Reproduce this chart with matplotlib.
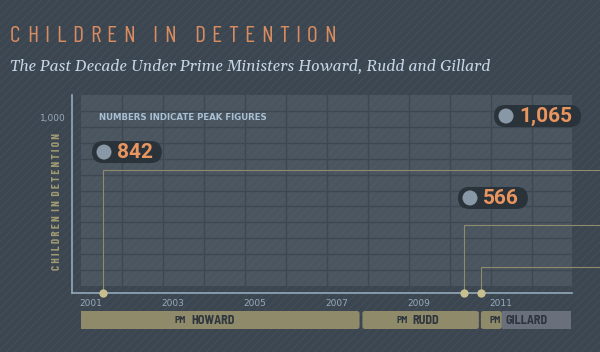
import matplotlib
matplotlib.use('Agg')
import matplotlib.pyplot as plt
from matplotlib.patches import Rectangle, FancyBboxPatch, Circle
import matplotlib.transforms as mtransforms

# ---------------- data ----------------
peak_labels = ['842', '1,065', '566']
peak_values = [842, 1065, 566]
event_years = [2001.3, 2010.1, 2010.5]
connector_levels = [703, 389, 149]
pm_names = ['HOWARD', 'RUDD', 'GILLARD']
pm_starts = [1996.0, 2007.62, 2010.51]
pm_ends = [2007.55, 2010.46, 2011.02]
ongoing_end = 2012.7
year_ticks = [2001, 2003, 2005, 2007, 2009, 2011]
y_ticks = [1000]
y_tick_labels = ['1,000']
title = 'CHILDREN IN DETENTION'
subtitle = 'The Past Decade Under Prime Ministers Howard, Rudd and Gillard'
note = 'NUMBERS INDICATE PEAK FIGURES'
ylabel = 'CHILDREN IN DETENTION'

# ---------------- layout ----------------
W, H = 600, 352
BG = '#3b4651'
COND = ['Barlow Condensed', 'DejaVu Sans']
SEMI = ['Barlow Semi Condensed', 'DejaVu Sans']
plt.rcParams['hatch.linewidth'] = 0.8

def year_at(px):
    return 2001 + (px - 91) / 41.0

def val_at(py):
    return (293 - py) / 0.175

def spaced(s):
    return '  '.join(' '.join(w) for w in s.split(' '))

fig = plt.figure(figsize=(W / 100, H / 100), dpi=100)
renderer = fig.canvas.get_renderer()
fig.patch.set_facecolor(BG)
fig.patches.append(Rectangle((0, 0), 1, 1, transform=fig.transFigure,
                             facecolor=BG, edgecolor='#434e59', hatch='////',
                             lw=0, zorder=-5))

def tracked_text(x_px, y_px, s, tracking, **kw):
    """Place characters one by one (pixel coords from top-left) with extra tracking."""
    tmp = fig.text(0, 0, 'nn', **kw)
    w_nn = tmp.get_window_extent(renderer).width
    tmp.set_text('n n')
    space_w = tmp.get_window_extent(renderer).width - w_nn
    tmp.remove()
    x = x_px
    for ch in s:
        if ch == ' ':
            x += space_w + tracking
            continue
        t = fig.text(x / W, 1 - y_px / H, ch, va='center', ha='left', **kw)
        x += t.get_window_extent(renderer).width + tracking

ax = fig.add_axes([72 / W, (H - 293) / H, 500 / W, 198 / H])
ax.set_zorder(2)
ax.patch.set_visible(False)
ax.set_xlim(year_at(72), year_at(572))
ax.set_ylim(0, val_at(95))
ax.set_autoscale_on(False)

# plot background + grid
gx0, gy0 = year_at(81), val_at(286)
ax.add_patch(Rectangle((gx0, gy0), year_at(572) - gx0, val_at(95) - gy0,
                       facecolor='#4a5560', edgecolor='#4f5a65', hatch='////',
                       lw=0, zorder=0))
k = 1
while gx0 + k < year_at(572) - 0.01:
    ax.plot([gx0 + k, gx0 + k], [gy0, val_at(95)], color='#3e4853', lw=1.0, zorder=1)
    k += 1
row = (val_at(95) - gy0) / 12.0
for k in range(1, 12):
    ax.plot([gx0, year_at(572)], [gy0 + k * row] * 2, color='#3e4853', lw=1.0, zorder=1)

for s in ['top', 'right']:
    ax.spines[s].set_visible(False)
for s in ['left', 'bottom']:
    ax.spines[s].set_color('#93a9ba')
    ax.spines[s].set_linewidth(1.2)
ax.set_xticks(year_ticks)
ax.set_xticklabels([str(y) for y in year_ticks])
ax.set_yticks(y_ticks)
ax.set_yticklabels(y_tick_labels)
ax.tick_params(length=0, labelsize=6.5, labelcolor='#98a9b9')
ax.tick_params(axis='x', pad=4)
ax.tick_params(axis='y', pad=4.5)

ax.set_ylabel(spaced(ylabel), color='#a09a72', fontsize=8, fontweight='bold', family=COND)
ax.yaxis.set_label_coords(-10 / 500, (293 - 201.5) / 198)

ax.text(year_at(99), val_at(118), note, color='#a8c0d4',
        fontsize=6.2, fontweight='bold', va='center', ha='left', zorder=3)

# connectors + event points
x_right = year_at(600)
for x, lvl in zip(event_years, connector_levels):
    ax.plot([x, x, x_right], [0, lvl, lvl], color='#8e8a6b', lw=0.8,
            clip_on=False, zorder=2)
ax.scatter(event_years, [0] * len(event_years), s=36, color='#c8bf8e',
           clip_on=False, zorder=5, linewidths=0)

# peak pills
pill_years = [year_at(92), year_at(494), year_at(458)]
pill_drop = [6.4, 9.4, 4.0]
for lab, v, px_year, dy in zip(peak_labels, peak_values, pill_years, pill_drop):
    st = mtransforms.ScaledTranslation(px_year, v, ax.transData)
    t = fig.text(25, -dy - 0.5, lab, transform=st, color='#e8955f', fontsize=15,
                 fontweight='bold', family=['Roboto', 'DejaVu Sans'],
                 va='center', ha='left', zorder=12)
    wpx = t.get_window_extent(renderer).width
    fig.add_artist(FancyBboxPatch((0, -dy - 11), 25 + wpx + 9, 22,
                                  boxstyle='round,pad=0,rounding_size=11',
                                  transform=st, facecolor='#2a323a', edgecolor='none',
                                  zorder=10))
    fig.add_artist(Circle((12, -dy), 7.5, transform=st, facecolor='#8898a7',
                          edgecolor='none', zorder=11))

# PM bars
ax2 = fig.add_axes([81 / W, (H - 329) / H, 491 / W, 18 / H])
ax2.set_xlim(year_at(81), year_at(572))
ax2.set_ylim(0, 1)
ax2.axis('off')
asp = (1 / 18.0) / (1 / 41.0)
KH = '#8e8a6a'
for i, (name, s0, s1) in enumerate(zip(pm_names, pm_starts, pm_ends)):
    ax2.add_patch(FancyBboxPatch((s0, 0), s1 - s0, 1,
                                 boxstyle='round,pad=0,rounding_size=0.06',
                                 mutation_aspect=asp, facecolor=KH, edgecolor='none'))
ax2.add_patch(Rectangle((pm_ends[-1], 0), ongoing_end - pm_ends[-1], 1,
                        facecolor='#6a707b', edgecolor='none'))
pm_label_x = [year_at(188.5), year_at(410), year_at(503)]
for name, lx in zip(pm_names, pm_label_x):
    ax2.annotate('PM', (lx, 0.5), xytext=(-2.5, -0.5), textcoords='offset pixels',
                 ha='right', va='center', fontsize=7, fontweight='bold', color='#2d353e',
                 family=SEMI)
    ax2.annotate(name, (lx, 0.5), xytext=(2.5, 0),
                 textcoords='offset pixels', ha='left', va='center', fontsize=8.8,
                 fontweight='bold', color='#2d353e', family=SEMI)

# titles
tracked_text(10, 36, title, 6.5, color='#d98c5f', fontsize=17, family=COND)
fig.text(10 / W, 1 - 66 / H, subtitle,
         color='#c6d6e6', fontsize=11.4, style='italic', family=['Gelasio', 'DejaVu Serif'],
         va='center', ha='left')

fig.savefig('out.png', dpi=100, facecolor=BG)
